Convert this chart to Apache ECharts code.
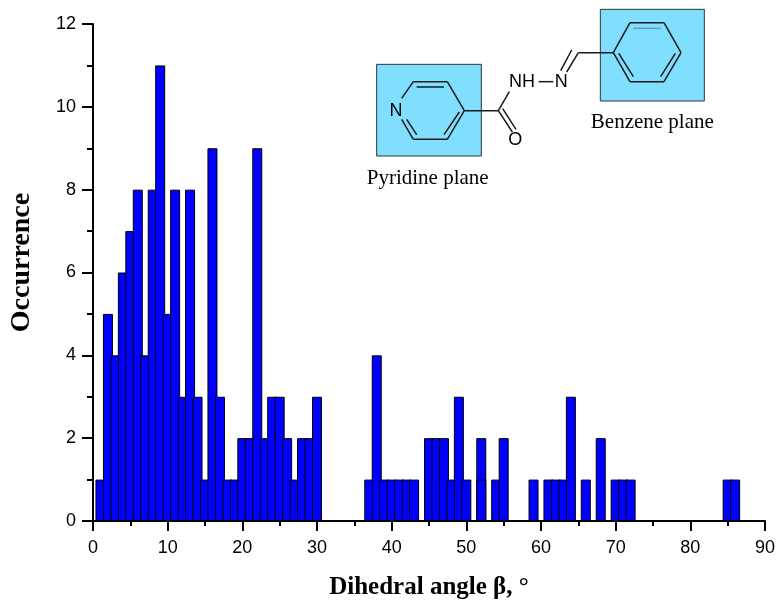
<!DOCTYPE html>
<html>
<head>
<meta charset="utf-8">
<style>html,body{margin:0;padding:0;background:#fff}#c{width:776px;height:602px}</style>
<script src="https://cdn.jsdelivr.net/npm/echarts@6/dist/echarts.min.js"></script>
</head>
<body>
<div id="c"></div>
<script>
var angles = [1,2,3,4,5,6,7,8,9,10,11,12,13,14,15,16,17,18,19,20,21,22,23,24,25,26,27,28,29,30,
              37,38,39,40,41,42,43,45,46,47,48,49,50,52,52,54,55,59,61,62,63,64,66,68,70,71,72,85,86];
var counts = [1,5,4,6,7,8,4,8,11,5,8,3,8,3,1,9,3,1,1,2,2,9,2,3,3,2,1,2,2,3,
              1,4,1,1,1,1,1,2,2,2,1,3,1,2,1,1,2,1,1,1,1,3,1,2,1,1,1,1,1];
var xTitle = 'Dihedral angle β, °';
var yTitle = 'Occurrence';
var pyridineLabel = 'Pyridine plane';
var benzeneLabel = 'Benzene plane';

var points = angles.map(function (a, i) { return [a, counts[i]]; });
var chart = echarts.init(document.getElementById('c'), null, {renderer: 'canvas'});

// Molecule sketch: coordinates in a 3x space, offset to the upper right of the plot.
function P(x, y) { return [350 + x / 3, y / 3]; }
function seg(x1, y1, x2, y2, c, w) {
  var a = P(x1, y1), b = P(x2, y2);
  return {type: 'line', z: 20, shape: {x1: a[0], y1: a[1], x2: b[0], y2: b[1]},
          style: {stroke: c || '#1a1a1a', lineWidth: w || 1.5}};
}
function box(x1, y1, x2, y2) {
  var a = P(x1, y1), b = P(x2, y2);
  return {type: 'rect', z: 10, shape: {x: a[0], y: a[1], width: b[0] - a[0], height: b[1] - a[1]},
          style: {fill: '#80dfff', stroke: '#333333', lineWidth: 1}};
}
function label(t, x, y, size, family) {
  var a = P(x, y);
  return {type: 'text', z: 30, x: a[0], y: a[1],
          style: {text: t, fill: '#000', font: size + 'px ' + family, align: 'center', verticalAlign: 'middle'}};
}
var sans = '"Liberation Sans"', serif = '"Liberation Serif"';
var sketch = [
  box(80, 193, 394, 468), box(751, 28, 1063, 303),
  // pyridine ring
  seg(155, 295, 190, 245), seg(190, 245, 292, 245), seg(292, 245, 343, 332), seg(343, 332, 292, 418),
  seg(292, 418, 190, 418), seg(190, 418, 155, 358),
  seg(200, 261, 282, 261), seg(328, 336, 282, 404), seg(170, 358, 200, 404),
  // linker
  seg(343, 332, 445, 332), seg(445, 332, 478, 275), seg(445, 332, 487, 396), seg(458, 326, 498, 388),
  seg(566, 245, 610, 245), seg(632, 212, 665, 150), seg(650, 216, 685, 158), seg(685, 158, 790, 158),
  // benzene ring
  seg(790, 158, 840, 68), seg(840, 68, 942, 68), seg(942, 68, 993, 158), seg(993, 158, 942, 245),
  seg(942, 245, 840, 245), seg(840, 245, 790, 158),
  seg(850, 85, 932, 85, '#5f9fb5'), seg(806, 160, 850, 230), seg(976, 160, 932, 230),
  label('N', 138, 332, 18, sans), label('NH', 516, 245, 18, sans), label('N', 634, 245, 18, sans),
  label('O', 496, 420, 18, sans),
  label(benzeneLabel, 907, 367, 21, serif), label(pyridineLabel, 233, 535, 21, serif)
];

chart.setOption({
  animation: false,
  backgroundColor: '#fff',
  grid: {left: 93, right: 11, top: 24, bottom: 81, containLabel: false, outerBoundsMode: 'none'},
  xAxis: {
    type: 'value', min: 0, max: 90, interval: 10,
    name: xTitle, nameLocation: 'middle', nameGap: 54,
    nameTextStyle: {fontFamily: serif, fontWeight: 'bold', fontSize: 25, color: '#000'},
    axisLine: {show: true, onZero: false, lineStyle: {color: '#000', width: 2}},
    axisTick: {show: true, length: 10, lineStyle: {color: '#000', width: 2}},
    minorTick: {show: true, splitNumber: 2, length: 5, lineStyle: {color: '#000', width: 2}},
    axisLabel: {color: '#000', fontFamily: sans, fontSize: 18, margin: 18},
    splitLine: {show: false}, minorSplitLine: {show: false}
  },
  yAxis: {
    type: 'value', min: 0, max: 12, interval: 2,
    name: yTitle, nameLocation: 'middle', nameGap: 57, nameRotate: 90,
    nameTextStyle: {fontFamily: serif, fontWeight: 'bold', fontSize: 28, color: '#000', padding: [0, 0, 0, 20]},
    axisLine: {show: true, onZero: false, lineStyle: {color: '#000', width: 2}},
    axisTick: {show: true, length: 11, lineStyle: {color: '#000', width: 2}},
    minorTick: {show: true, splitNumber: 2, length: 6, lineStyle: {color: '#000', width: 2}},
    axisLabel: {color: '#000', fontFamily: sans, fontSize: 18, margin: 17, padding: [0, 0, 3, 0]},
    splitLine: {show: false}, minorSplitLine: {show: false}
  },
  series: [{
    type: 'bar', data: points, barWidth: 10, barGap: '-100%', z: 3,
    itemStyle: {color: '#0000ff', borderColor: '#000', borderWidth: 1}
  }],
  graphic: {elements: sketch}
});
</script>
</body>
</html>
